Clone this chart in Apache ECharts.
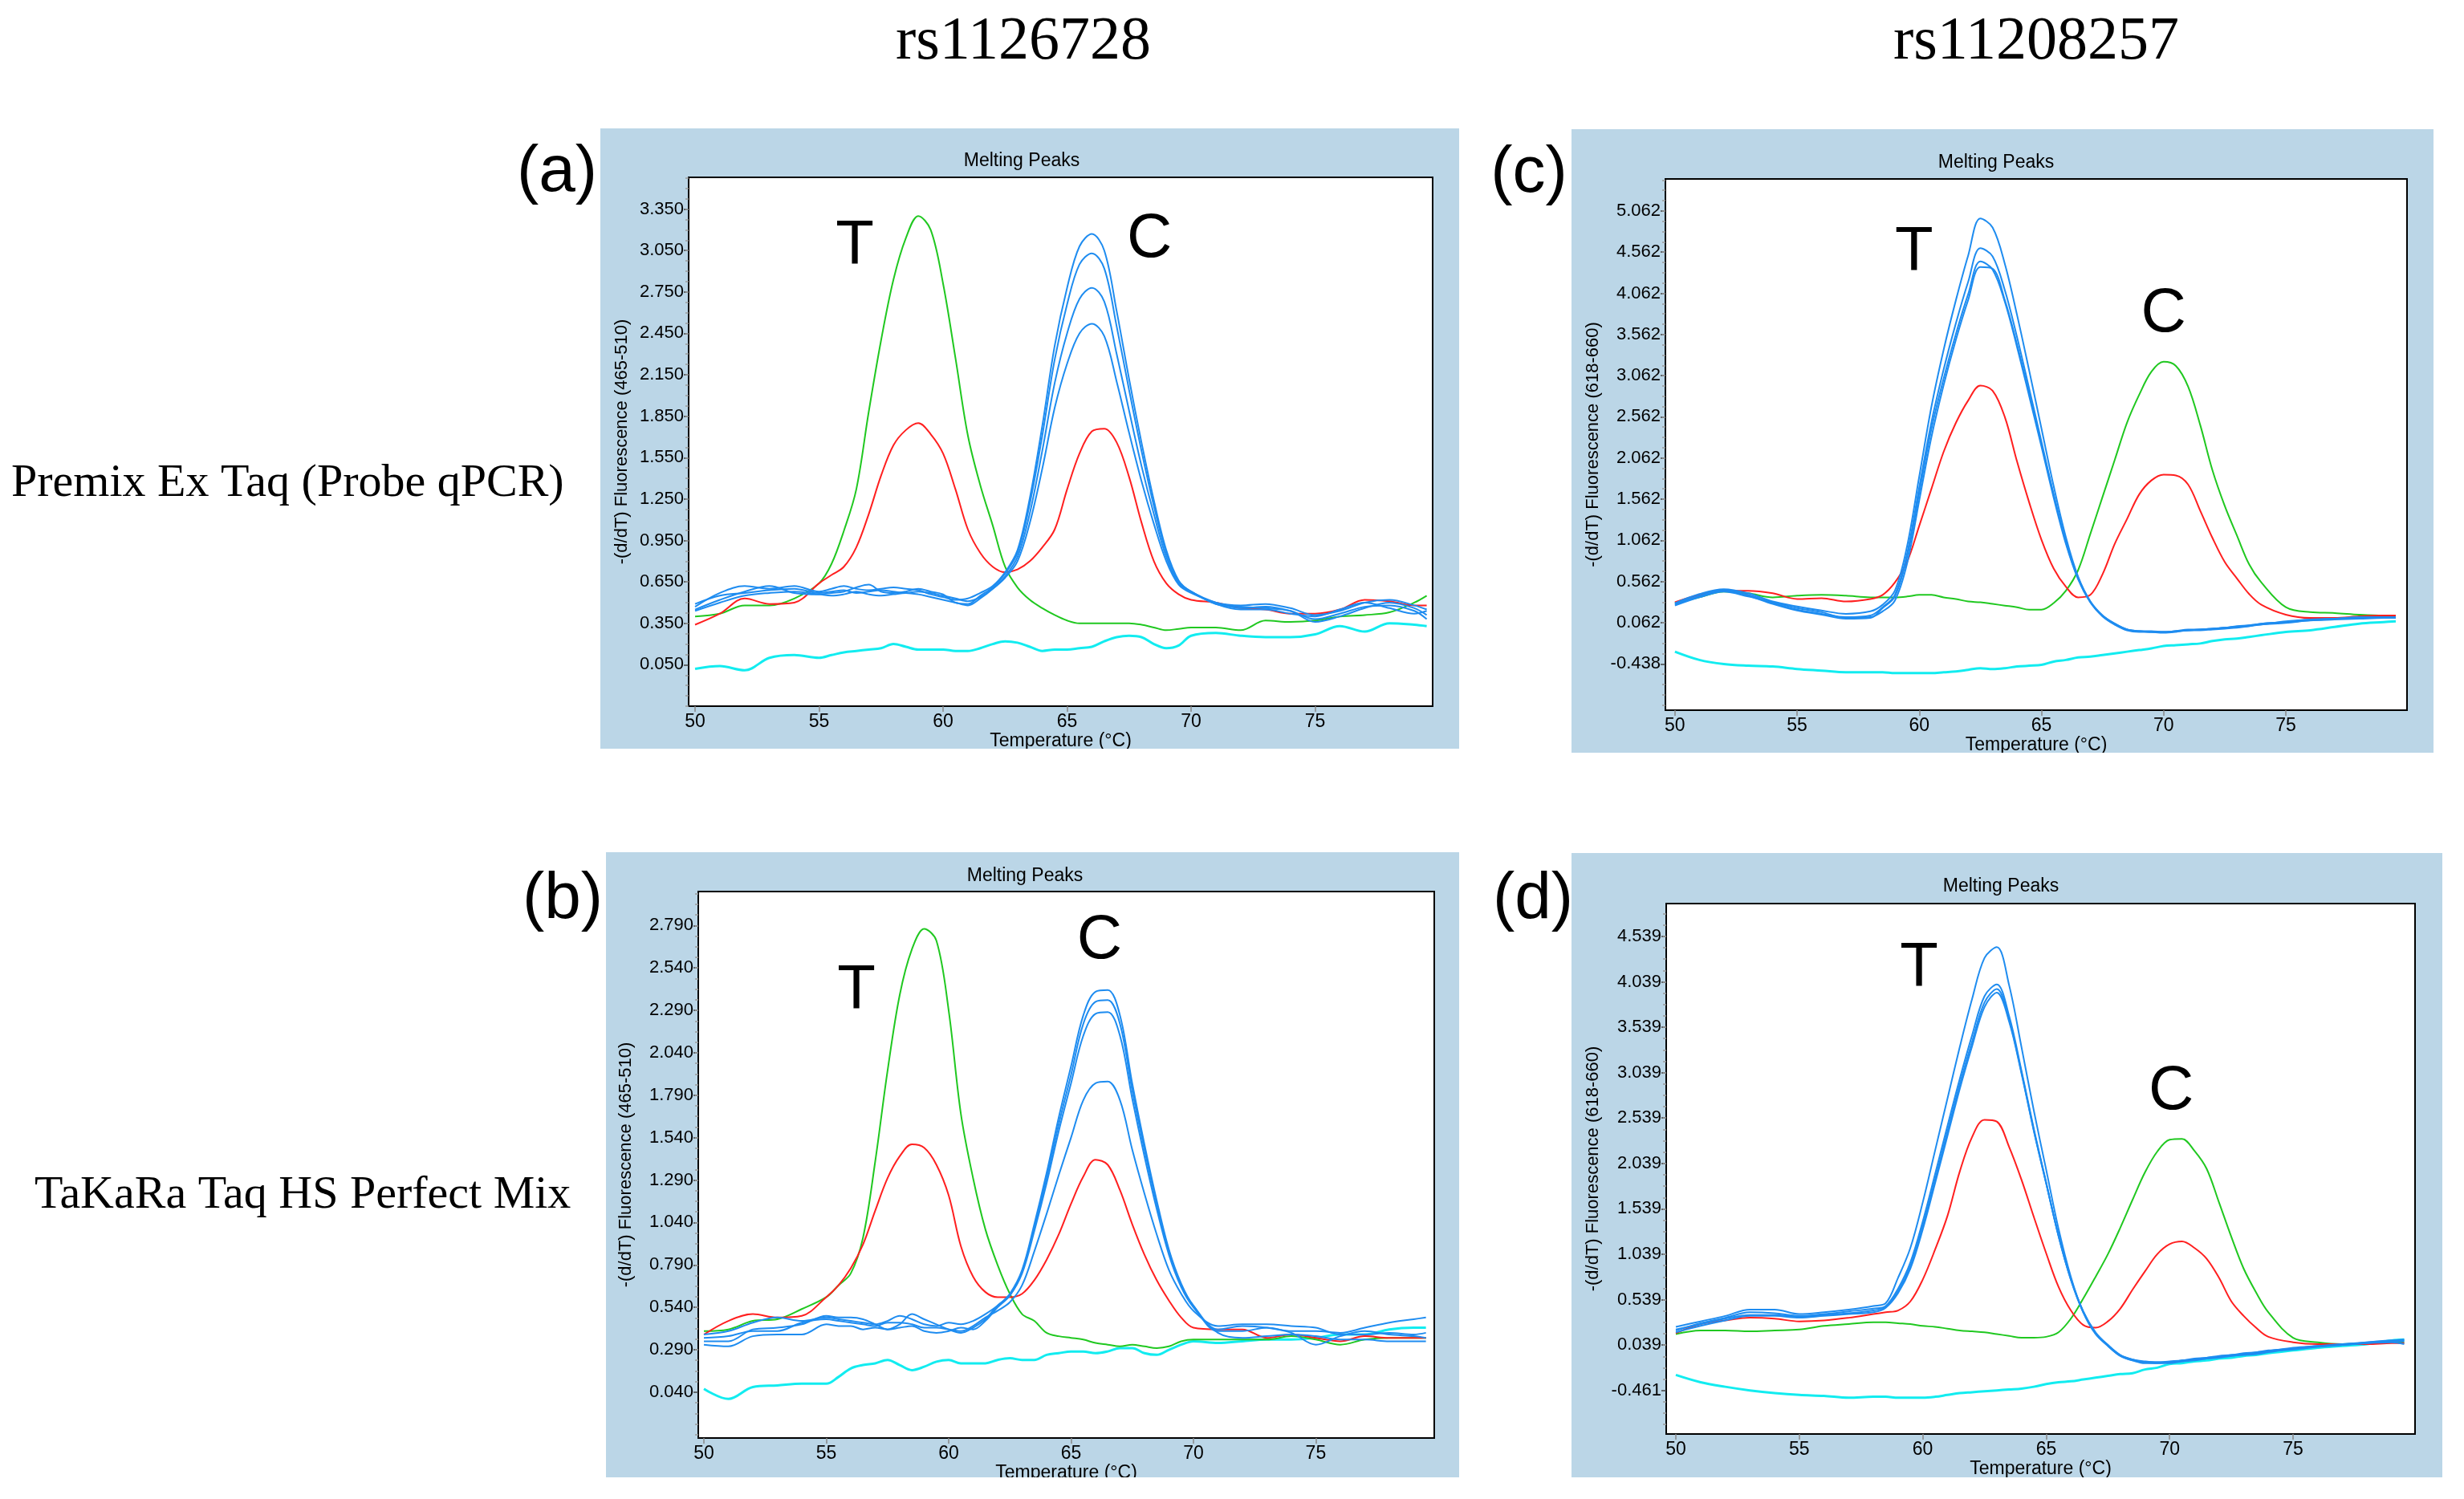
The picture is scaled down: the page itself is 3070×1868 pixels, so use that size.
<!DOCTYPE html>
<html>
<head>
<meta charset="utf-8">
<script src="https://cdn.jsdelivr.net/npm/echarts@6/dist/echarts.min.js"></script>
<style>
  html, body { margin: 0; padding: 0; background: #fff; }
  #chart { width: 3070px; height: 1868px; }
</style>
</head>
<body>
<div id="chart"></div>
<script>
// temperatures (°C) at which the curves were read
var tempsAB = [50,51,52,53,54,55,55.5,56,56.5,57,57.5,58,58.5,59,59.5,60,60.5,61,61.5,62,62.5,63,63.5,64,64.5,65,65.5,66,66.5,67,67.5,68,68.5,69,69.5,70,71,72,73,74,75,76,77,78,79,79.5];
var tempsCD = [50,51,52,53,54,55,56,57,58,58.5,59,59.5,60,60.5,61,61.5,62,62.5,63,63.5,64,64.5,65,65.5,66,66.5,67,67.5,68,68.5,69,69.5,70,70.5,71,71.5,72,72.5,73,73.5,74,75,76,77,78,79,79.5];

// (a) rs1126728, Premix Ex Taq
var greenA = [0.40,0.42,0.48,0.48,0.53,0.64, 0.78,1.02,1.32,1.88,2.40,2.84,3.14,3.30,3.20, 2.81,2.27,1.71,1.35,1.06,0.76,0.61,0.52,0.46,0.41, 0.37,0.35,0.35,0.35,0.35,0.35,0.34,0.32,0.30,0.31,0.32, 0.32,0.30,0.37,0.36,0.37,0.40,0.41,0.43,0.50,0.55];
var redA = [0.34,0.42,0.53,0.49,0.50,0.64, 0.70,0.76,0.90,1.14,1.42,1.64,1.75,1.80,1.72, 1.58,1.32,1.03,0.86,0.76,0.72,0.74,0.80,0.90,1.03, 1.32,1.58,1.74,1.76,1.66,1.41,1.08,0.80,0.64,0.56,0.52, 0.50,0.46,0.45,0.42,0.42,0.45,0.52,0.51,0.48,0.48];
var blueA1 = [0.47,0.57,0.62,0.60,0.62,0.58, 0.60,0.62,0.60,0.59,0.60,0.61,0.60,0.59,0.56, 0.54,0.52,0.53,0.57,0.62,0.72,0.88,1.26,1.78,2.36, 2.78,3.08,3.17,3.05,2.61,2.12,1.66,1.24,0.88,0.66,0.58, 0.50,0.46,0.47,0.44,0.38,0.42,0.47,0.48,0.44,0.38];
var blueA2 = [0.45,0.52,0.58,0.62,0.57,0.56, 0.57,0.58,0.61,0.63,0.58,0.57,0.58,0.60,0.58, 0.56,0.50,0.49,0.55,0.61,0.71,0.86,1.22,1.71,2.26, 2.66,2.95,3.03,2.92,2.50,2.04,1.60,1.20,0.86,0.65,0.58, 0.49,0.45,0.45,0.42,0.40,0.45,0.50,0.46,0.42,0.44];
var blueA3 = [0.44,0.50,0.55,0.57,0.58,0.56, 0.55,0.56,0.58,0.56,0.55,0.56,0.57,0.56,0.54, 0.52,0.50,0.48,0.53,0.60,0.69,0.83,1.15,1.60,2.09, 2.45,2.70,2.78,2.68,2.30,1.89,1.49,1.14,0.83,0.64,0.58, 0.49,0.47,0.46,0.44,0.36,0.40,0.46,0.50,0.46,0.41];
var blueA4 = [0.49,0.55,0.57,0.59,0.60,0.57, 0.58,0.59,0.57,0.58,0.59,0.58,0.57,0.58,0.57, 0.55,0.53,0.51,0.54,0.60,0.68,0.80,1.08,1.47,1.91, 2.23,2.45,2.52,2.43,2.10,1.73,1.38,1.07,0.80,0.63,0.57, 0.50,0.48,0.49,0.46,0.41,0.44,0.50,0.52,0.48,0.45];
var cyanA = [0.02,0.04,0.01,0.10,0.12,0.10, 0.12,0.14,0.15,0.16,0.17,0.20,0.18,0.16,0.16, 0.16,0.15,0.15,0.17,0.20,0.22,0.21,0.18,0.15,0.16, 0.16,0.17,0.18,0.22,0.25,0.26,0.25,0.20,0.17,0.19,0.26, 0.28,0.26,0.25,0.25,0.27,0.33,0.29,0.35,0.34,0.33];

// (b) rs1126728, TaKaRa Taq HS
var greenB = [0.40,0.41,0.46,0.47,0.53,0.60, 0.67,0.74,0.95,1.40,1.93,2.38,2.65,2.77,2.70, 2.29,1.68,1.30,1.00,0.79,0.62,0.50,0.46,0.39,0.37, 0.36,0.35,0.33,0.32,0.31,0.32,0.31,0.30,0.31,0.34,0.35, 0.35,0.35,0.35,0.37,0.35,0.32,0.35,0.36,0.36,0.36];
var redB = [0.38,0.46,0.50,0.48,0.49,0.60, 0.67,0.77,0.91,1.11,1.30,1.43,1.50,1.48,1.38, 1.20,0.90,0.72,0.63,0.60,0.60,0.62,0.70,0.82,0.97, 1.15,1.31,1.41,1.38,1.23,1.03,0.85,0.70,0.58,0.48,0.42, 0.41,0.41,0.36,0.38,0.36,0.34,0.37,0.36,0.36,0.36];
var blueB1 = [0.38,0.40,0.45,0.48,0.46,0.48, 0.47,0.46,0.45,0.44,0.46,0.49,0.47,0.44,0.43, 0.45,0.44,0.46,0.50,0.55,0.62,0.76,1.03,1.33,1.66, 1.96,2.26,2.40,2.41,2.26,1.86,1.50,1.17,0.88,0.68,0.55, 0.40,0.40,0.42,0.40,0.40,0.39,0.42,0.45,0.47,0.48];
var blueB2 = [0.34,0.34,0.41,0.42,0.44,0.49, 0.48,0.48,0.47,0.44,0.41,0.44,0.50,0.47,0.44, 0.41,0.39,0.42,0.47,0.55,0.61,0.75,1.01,1.30,1.62, 1.91,2.21,2.34,2.35,2.21,1.82,1.47,1.15,0.87,0.67,0.55, 0.41,0.43,0.42,0.39,0.32,0.37,0.40,0.38,0.37,0.36];
var blueB3 = [0.32,0.31,0.37,0.38,0.38,0.44, 0.43,0.43,0.41,0.42,0.41,0.42,0.43,0.40,0.39, 0.40,0.42,0.41,0.46,0.54,0.61,0.74,0.99,1.27,1.58, 1.86,2.14,2.27,2.28,2.14,1.77,1.43,1.12,0.85,0.66,0.54, 0.39,0.36,0.37,0.38,0.37,0.35,0.35,0.34,0.34,0.34];
var blueB4 = [0.36,0.37,0.40,0.40,0.45,0.47, 0.46,0.45,0.44,0.43,0.45,0.45,0.44,0.42,0.42, 0.41,0.40,0.43,0.48,0.52,0.57,0.67,0.87,1.09,1.32, 1.54,1.76,1.86,1.87,1.76,1.47,1.21,0.97,0.76,0.62,0.52, 0.43,0.44,0.44,0.43,0.42,0.38,0.38,0.39,0.38,0.39];
var cyanB = [0.06,0.00,0.07,0.08,0.09,0.09, 0.13,0.18,0.20,0.21,0.23,0.20,0.17,0.19,0.22, 0.23,0.21,0.21,0.21,0.23,0.24,0.23,0.23,0.26,0.27, 0.28,0.28,0.27,0.28,0.30,0.30,0.27,0.26,0.29,0.32,0.34, 0.33,0.34,0.35,0.35,0.36,0.38,0.38,0.41,0.42,0.42];

// (c) rs11208257, Premix Ex Taq
var greenC = [0.30,0.37,0.44,0.42,0.37,0.39,0.40,0.39,0.37, 0.37,0.37,0.38,0.40,0.40,0.37,0.35,0.32,0.31,0.29,0.27,0.25,0.22,0.22,0.30,0.45, 0.70,1.14,1.59,2.04,2.49,2.83,3.11,3.23,3.18,2.93,2.46,1.91,1.48,1.12,0.77,0.55, 0.25,0.19,0.18,0.16,0.15,0.15];
var redC = [0.31,0.40,0.45,0.45,0.42,0.35,0.36,0.32,0.35, 0.40,0.55,0.80,1.24,1.69,2.14,2.49,2.76,2.94,2.88,2.56,2.02,1.52,1.07,0.72,0.50, 0.37,0.40,0.65,1.02,1.32,1.62,1.79,1.86,1.85,1.74,1.42,1.09,0.80,0.60,0.41,0.28, 0.16,0.12,0.12,0.14,0.15,0.15];
var blueC1 = [0.30,0.41,0.47,0.42,0.32,0.26,0.21,0.17,0.20, 0.28,0.45,0.99,1.84,2.69,3.38,3.98,4.52,4.97,4.86,4.42,3.80,3.12,2.42,1.72,1.10, 0.62,0.32,0.15,0.05,-0.02,-0.04,-0.05,-0.05,-0.04,-0.02,-0.02,-0.01,0.00,0.01,0.02,0.05, 0.07,0.10,0.11,0.12,0.13,0.13];
var blueC2 = [0.28,0.38,0.45,0.40,0.30,0.22,0.17,0.13,0.15, 0.25,0.40,0.90,1.71,2.50,3.14,3.70,4.20,4.61,4.51,4.10,3.53,2.90,2.26,1.62,1.04, 0.60,0.31,0.14,0.04,-0.03,-0.05,-0.05,-0.05,-0.04,-0.03,-0.02,-0.01,0.00,0.01,0.03,0.04, 0.08,0.10,0.11,0.12,0.12,0.12];
var blueC3 = [0.29,0.39,0.46,0.39,0.29,0.21,0.16,0.11,0.12, 0.24,0.38,0.86,1.64,2.42,3.03,3.57,4.05,4.45,4.35,3.96,3.41,2.81,2.20,1.58,1.02, 0.59,0.31,0.14,0.04,-0.02,-0.04,-0.05,-0.06,-0.05,-0.03,-0.03,-0.02,-0.01,0.00,0.02,0.04, 0.06,0.09,0.11,0.13,0.13,0.13];
var blueC4 = [0.27,0.37,0.44,0.38,0.31,0.24,0.19,0.12,0.13, 0.20,0.33,0.78,1.55,2.32,2.95,3.50,3.98,4.38,4.36,3.98,3.44,2.84,2.23,1.61,1.05, 0.61,0.32,0.15,0.05,-0.02,-0.04,-0.04,-0.05,-0.04,-0.03,-0.02,-0.01,0.00,0.02,0.03,0.05, 0.07,0.09,0.10,0.11,0.12,0.12];
var cyanC = [-0.29,-0.39,-0.44,-0.46,-0.47,-0.50,-0.52,-0.54,-0.54, -0.54,-0.55,-0.55,-0.55,-0.55,-0.54,-0.53,-0.51,-0.49,-0.50,-0.49,-0.47,-0.46,-0.45,-0.41,-0.39, -0.36,-0.35,-0.33,-0.31,-0.29,-0.27,-0.25,-0.22,-0.21,-0.20,-0.19,-0.16,-0.14,-0.13,-0.11,-0.09, -0.05,-0.03,0.01,0.05,0.07,0.08];

// (d) rs11208257, TaKaRa Taq HS
var greenD = [0.16,0.20,0.20,0.19,0.20,0.21,0.25,0.27,0.29, 0.29,0.28,0.27,0.25,0.24,0.22,0.20,0.19,0.18,0.16,0.14,0.12,0.12,0.13,0.18,0.33, 0.55,0.79,1.04,1.33,1.64,1.94,2.17,2.30,2.31,2.18,1.98,1.61,1.23,0.88,0.62,0.40, 0.12,0.07,0.05,0.06,0.07,0.07];
var redD = [0.17,0.27,0.31,0.34,0.33,0.30,0.31,0.34,0.38, 0.40,0.42,0.52,0.76,1.09,1.46,1.95,2.33,2.52,2.50,2.22,1.86,1.45,1.05,0.68,0.42, 0.26,0.23,0.30,0.44,0.65,0.85,1.04,1.15,1.18,1.11,0.99,0.78,0.52,0.36,0.23,0.13, 0.07,0.05,0.05,0.05,0.06,0.06];
var blueD1 = [0.24,0.30,0.36,0.43,0.43,0.38,0.40,0.43,0.47, 0.50,0.78,1.11,1.61,2.18,2.75,3.32,3.85,4.30,4.42,4.00,3.32,2.62,1.97,1.32,0.79, 0.40,0.16,0.03,-0.08,-0.13,-0.16,-0.16,-0.16,-0.14,-0.13,-0.11,-0.10,-0.08,-0.07,-0.06,-0.04, 0.00,0.02,0.04,0.06,0.08,0.08];
var blueD2 = [0.20,0.28,0.34,0.40,0.39,0.36,0.38,0.41,0.44, 0.47,0.66,0.95,1.40,1.92,2.45,2.97,3.45,3.88,4.01,3.66,3.06,2.42,1.83,1.24,0.76, 0.40,0.17,0.03,-0.08,-0.13,-0.15,-0.16,-0.15,-0.14,-0.12,-0.11,-0.09,-0.08,-0.06,-0.05,-0.03, -0.01,0.02,0.05,0.07,0.09,0.09];
var blueD3 = [0.21,0.27,0.33,0.37,0.37,0.35,0.37,0.39,0.42, 0.46,0.63,0.91,1.35,1.86,2.39,2.91,3.38,3.81,3.96,3.62,3.04,2.40,1.82,1.24,0.76, 0.41,0.17,0.04,-0.07,-0.12,-0.15,-0.15,-0.15,-0.13,-0.12,-0.10,-0.09,-0.07,-0.06,-0.04,-0.03, 0.01,0.03,0.05,0.06,0.07,0.05];
var blueD4 = [0.18,0.25,0.31,0.36,0.36,0.34,0.36,0.38,0.40, 0.45,0.61,0.88,1.31,1.82,2.34,2.86,3.33,3.76,3.92,3.60,3.03,2.40,1.82,1.25,0.77, 0.41,0.18,0.04,-0.07,-0.12,-0.14,-0.15,-0.14,-0.13,-0.11,-0.10,-0.08,-0.07,-0.05,-0.04,-0.02, 0.00,0.03,0.04,0.07,0.09,0.10];
var cyanD = [-0.29,-0.37,-0.42,-0.46,-0.49,-0.51,-0.52,-0.54,-0.53, -0.53,-0.54,-0.54,-0.54,-0.53,-0.51,-0.49,-0.48,-0.47,-0.46,-0.45,-0.44,-0.42,-0.39,-0.37,-0.36, -0.34,-0.32,-0.30,-0.28,-0.27,-0.23,-0.21,-0.17,-0.16,-0.14,-0.13,-0.11,-0.10,-0.08,-0.07,-0.05, -0.02,0.01,0.03,0.05,0.09,0.10];

// tick labels
var xTicks = [50,55,60,65,70,75];
var yTicksA = [0.05,0.35,0.65,0.95,1.25,1.55,1.85,2.15,2.45,2.75,3.05,3.35];
var yTicksB = [0.04,0.29,0.54,0.79,1.04,1.29,1.54,1.79,2.04,2.29,2.54,2.79];
var yTicksC = [-0.438,0.062,0.562,1.062,1.562,2.062,2.562,3.062,3.562,4.062,4.562,5.062];
var yTicksD = [-0.461,0.039,0.539,1.039,1.539,2.039,2.539,3.039,3.539,4.039,4.539];

// peak annotations [text, temperature, value]
var marksA = [['T',56.44,3.08],['C',68.32,3.13]];
var marksB = [['T',56.23,2.40],['C',66.16,2.70]];
var marksC = [['T',59.79,4.55],['C',70.00,3.81]];
var marksD = [['T',59.85,4.18],['C',70.06,2.83]];

var SANS = "'Liberation Sans', Arial, sans-serif";
var SERIF = "'Liberation Serif', 'Times New Roman', serif";
var GREEN = '#20c820', RED = '#ff1f1f', BLUE = '#1e8cf0', CYAN = '#12ecf0';

// panel layout (pixels) and axis ranges
var panels = [
    { temps: tempsAB, box: [748,160,1070,773], grid: [858,221,927,659], xr: [49.74,79.74], yr: [-0.25,3.58], ticks: yTicksA, nameGap: 72,
      green: greenA, red: redA, blues: [blueA1,blueA2,blueA3,blueA4], cyan: cyanA, marks: marksA, name: '-(d/dT) Fluorescence (465-510)', title: [1273,201] },
    { temps: tempsAB, box: [755,1062,1063,779], grid: [870,1111,917,681], xr: [49.77,79.84], yr: [-0.23,2.99], ticks: yTicksB, nameGap: 79,
      green: greenB, red: redB, blues: [blueB1,blueB2,blueB3,blueB4], cyan: cyanB, marks: marksB, name: '-(d/dT) Fluorescence (465-510)', title: [1277,1092] },
    { temps: tempsCD, box: [1958,161,1074,777], grid: [2075,223,924,662], xr: [49.61,79.96], yr: [-1.0,5.45], ticks: yTicksC, nameGap: 79,
      green: greenC, red: redC, blues: [blueC1,blueC2,blueC3,blueC4], cyan: cyanC, marks: marksC, name: '-(d/dT) Fluorescence (618-660)', title: [2487,203] },
    { temps: tempsCD, box: [1958,1063,1085,778], grid: [2076,1126,933,661], xr: [49.61,79.94], yr: [-0.94,4.90], ticks: yTicksD, nameGap: 80,
      green: greenD, red: redD, blues: [blueD1,blueD2,blueD3,blueD4], cyan: cyanD, marks: marksD, name: '-(d/dT) Fluorescence (618-660)', title: [2493,1105] }
];

function pairs(temps, vals) {
    return temps.map(function (t, i) { return [t, vals[i]]; });
}

// minor ticks: three between every pair of labelled ticks
function minorTicks(ticks, lo, hi) {
    var step = (ticks[1] - ticks[0]) / 4, out = [];
    for (var v = ticks[0] - step; v >= lo; v -= step) out.push(v);
    for (var w = ticks[0] + step; w <= hi; w += step) out.push(w);
    return out;
}

function txt(x, y, text, font, align) {
    return {
        type: 'text', x: x, y: y, z: 10,
        style: { text: text, font: font, fill: '#000', align: align || 'center', verticalAlign: 'middle',
                 textAlign: align || 'center', textVerticalAlign: 'middle' }
    };
}

var grids = [], xAxes = [], yAxes = [], series = [], graphics = [];

panels.forEach(function (p, i) {
    graphics.push({ type: 'rect', z: -10, shape: { x: p.box[0], y: p.box[1], width: p.box[2], height: p.box[3] }, style: { fill: '#bbd6e7' } });
    // cut the axis title at the bottom edge of the blue frame, as in the original
    graphics.push({ type: 'rect', z: 100, shape: { x: p.box[0] - 5, y: p.box[1] + p.box[3], width: p.box[2] + 10, height: 60 }, style: { fill: '#fff' } });
    graphics.push(txt(p.title[0], p.title[1], 'Melting Peaks', '23px ' + SANS));

    grids.push({ left: p.grid[0], top: p.grid[1], width: p.grid[2], height: p.grid[3], show: true,
                 backgroundColor: '#fff', borderColor: '#000', borderWidth: 2 });

    xAxes.push({
        type: 'value', gridIndex: i, min: p.xr[0], max: p.xr[1], position: 'bottom',
        name: 'Temperature (°C)', nameLocation: 'middle', nameGap: 31,
        nameTextStyle: { fontSize: 23, fontFamily: SANS, color: '#000' },
        axisLine: { show: false, onZero: false }, splitLine: { show: false },
        axisTick: { customValues: xTicks, length: 7, lineStyle: { color: '#888', width: 1.5 } },
        axisLabel: { customValues: xTicks, margin: 8, fontSize: 23, fontFamily: SANS, color: '#000' }
    });

    yAxes.push({
        type: 'value', gridIndex: i, min: p.yr[0], max: p.yr[1],
        name: p.name, nameLocation: 'middle', nameRotate: 90, nameGap: p.nameGap,
        nameTextStyle: { fontSize: 22, fontFamily: SANS, color: '#000' },
        axisLine: { show: false, onZero: false }, splitLine: { show: false },
        axisTick: { customValues: p.ticks, length: 6, lineStyle: { color: '#444', width: 1.5 } },
        axisLabel: { customValues: p.ticks, margin: 6, fontSize: 22, fontFamily: SANS, color: '#000',
                     formatter: function (v) { return v.toFixed(3); } }
    });
    yAxes.push({
        type: 'value', gridIndex: i, min: p.yr[0], max: p.yr[1], position: 'left',
        axisLine: { show: false, onZero: false }, splitLine: { show: false }, axisLabel: { show: false },
        axisTick: { customValues: minorTicks(p.ticks, p.yr[0], p.yr[1]), length: 4, lineStyle: { color: '#9a9a9a', width: 1.5 } }
    });

    var base = { type: 'line', xAxisIndex: i, yAxisIndex: 2 * i, symbol: 'none', smooth: 0.35, silent: true };
    series.push(Object.assign({}, base, {
        data: pairs(p.temps, p.cyan), lineStyle: { color: CYAN, width: 3 },
        markPoint: {
            symbol: 'circle', symbolSize: 1, itemStyle: { color: 'rgba(0,0,0,0)' },
            label: { show: true, position: 'inside', formatter: '{b}', fontSize: 78, fontFamily: SANS, color: '#000' },
            data: p.marks.map(function (m) { return { name: m[0], coord: [m[1], m[2]] }; })
        }
    }));
    series.push(Object.assign({}, base, { data: pairs(p.temps, p.green), lineStyle: { color: GREEN, width: 2 } }));
    series.push(Object.assign({}, base, { data: pairs(p.temps, p.red), lineStyle: { color: RED, width: 2 } }));
    p.blues.forEach(function (b) {
        series.push(Object.assign({}, base, { data: pairs(p.temps, b), lineStyle: { color: BLUE, width: 2 } }));
    });
});

// column / row headings and panel letters
graphics.push(txt(1275, 53, 'rs1126728', '76px ' + SERIF));
graphics.push(txt(2537, 53, 'rs11208257', '76px ' + SERIF));
graphics.push(txt(14, 603, 'Premix Ex Taq (Probe qPCR)', '58px ' + SERIF, 'left'));
graphics.push(txt(43, 1490, 'TaKaRa Taq HS Perfect Mix', '58px ' + SERIF, 'left'));
graphics.push(txt(694, 215, '(a)', '82px ' + SANS));
graphics.push(txt(701, 1121, '(b)', '82px ' + SANS));
graphics.push(txt(1905, 216, '(c)', '82px ' + SANS));
graphics.push(txt(1910, 1121, '(d)', '82px ' + SANS));

var chart = echarts.init(document.getElementById('chart'), null, { renderer: 'canvas' });
chart.setOption({
    animation: false,
    backgroundColor: '#fff',
    grid: grids,
    xAxis: xAxes,
    yAxis: yAxes,
    series: series,
    graphic: { elements: graphics }
});
</script>
</body>
</html>
